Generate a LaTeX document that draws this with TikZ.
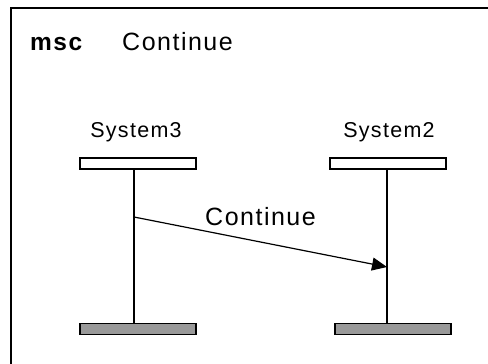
\documentclass[tikz,border=0pt]{standalone}
\usepackage{fontspec}
\setmainfont{Liberation Sans}[LetterSpace=6]
\usetikzlibrary{arrows.meta}

\begin{document}
\begin{tikzpicture}[x=1pt,y=-1pt,
  headbox/.style={draw,line width=1.5pt,fill=white,minimum width=116pt,minimum height=11pt,inner sep=0pt},
  footbox/.style={headbox,fill=black!40},
  lbl/.style={inner sep=0pt,font=\fontsize{21.5}{24}\selectfont,anchor=base}]
 \useasboundingbox (0,0) rectangle (488,364);
 \clip (0,0) rectangle (488,364);
 \draw[line width=1.8pt] (11,8) rectangle (500,380);
 \node[inner sep=0pt,anchor=base west,font=\fontsize{24.5}{26}\selectfont\bfseries] (kw) at (30,50) {msc};
 \node[inner sep=0pt,anchor=base west,font=\fontsize{25}{26}\selectfont] (title) at (122,50) {Continue};
 % instances
 \node[lbl] (n3) at (136,137) {System3};
 \node[lbl] (n2) at (389,137) {System2};
 \node[headbox] (h3) at (138,163.5) {};
 \node[headbox] (h2) at (388,163.5) {};
 \node[footbox] (f3) at (138,329) {};
 \node[footbox] (f2) at (393,329) {};
 \coordinate (x3) at (134,0);
 \coordinate (x2) at (387,0);
 \draw[line width=1.5pt] (h3.south -| x3) -- (f3.north -| x3);
 \draw[line width=1.5pt] (h2.south -| x2) -- (f2.north -| x2);
 % message
 \coordinate (m3) at (134,217);
 \coordinate (m2) at (387,267);
 \draw[line width=1.2pt,-{Triangle[length=15pt,width=13pt]}] (m3) -- (m2);
 \node[inner sep=0pt,anchor=base west,font=\fontsize{25}{26}\selectfont] (msg) at (205,225) {Continue};
\end{tikzpicture}
\end{document}
